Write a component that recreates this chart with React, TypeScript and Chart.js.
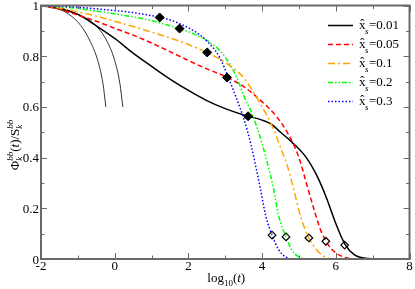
import { useEffect, useRef } from "react";
import { Chart, registerables } from "chart.js";

Chart.register(...registerables);

// ---- axis ticks ----
const xTicks = [-2, 0, 2, 4, 6, 8];
const xTickLabels = ["-2", "0", "2", "4", "6", "8"];
const xMinor = [-1, 1, 3, 5, 7];
const yTicks = [0, 0.2, 0.4, 0.6, 0.8, 1];
const yTickLabels = ["0", "0.2", "0.4", "0.6", "0.8", "1"];
const yMinor = [0.1, 0.3, 0.5, 0.7, 0.9];

// ---- series (x = log10 t, y = Phi/S) ----
const legendValues = ["0.01", "0.05", "0.1", "0.2", "0.3"];

const blackX = [-2, -1.5, -1, -0.5, 0, 0.5, 1, 1.5, 2, 2.5, 3, 3.5, 4, 4.25, 4.5, 4.8, 5.2, 5.5, 5.75, 6, 6.25, 6.5, 6.8, 7.2, 8];
const blackY = [1, 0.99, 0.965, 0.92, 0.87, 0.812, 0.76, 0.71, 0.665, 0.625, 0.593, 0.568, 0.548, 0.532, 0.5, 0.462, 0.4, 0.325, 0.24, 0.14, 0.058, 0.017, 0.003, 0, 0];

const redX = [-2, -1.5, -1, -0.5, 0, 0.5, 1, 1.5, 2, 2.5, 3, 3.5, 4, 4.4, 4.7, 5, 5.2, 5.4, 5.6, 5.8, 6, 6.3, 6.6, 8];
const redY = [1, 0.985, 0.962, 0.938, 0.91, 0.883, 0.852, 0.818, 0.783, 0.75, 0.72, 0.68, 0.62, 0.56, 0.495, 0.4, 0.3, 0.2, 0.11, 0.055, 0.024, 0.004, 0, 0];

const orangeX = [-2, -1.5, -1, -0.5, 0, 0.5, 1, 1.5, 2, 2.5, 3, 3.5, 4, 4.3, 4.5, 4.7, 4.85, 5.05, 5.27, 5.5, 5.75, 6, 8];
const orangeY = [1, 0.99, 0.975, 0.958, 0.938, 0.917, 0.895, 0.872, 0.846, 0.815, 0.775, 0.715, 0.6, 0.515, 0.44, 0.36, 0.28, 0.165, 0.083, 0.033, 0.005, 0, 0];

const greenX = [-2, -1.5, -1, -0.5, 0, 0.5, 1, 1.5, 1.76, 2, 2.5, 2.8, 3.05, 3.3, 3.5, 3.75, 4, 4.15, 4.3, 4.45, 4.65, 4.8, 5, 5.2, 8];
const greenY = [1, 0.995, 0.988, 0.978, 0.967, 0.955, 0.94, 0.92, 0.909, 0.897, 0.862, 0.83, 0.785, 0.72, 0.645, 0.565, 0.455, 0.375, 0.285, 0.17, 0.087, 0.037, 0.008, 0, 0];

const blueX = [-2, -1, 0, 0.5, 1, 1.5, 2, 2.3, 2.6, 2.85, 3.1, 3.3, 3.5, 3.7, 3.85, 3.95, 4.1, 4.27, 4.45, 4.65, 4.9, 8];
const blueY = [1, 0.993, 0.98, 0.972, 0.96, 0.943, 0.912, 0.885, 0.845, 0.795, 0.71, 0.635, 0.555, 0.45, 0.35, 0.28, 0.17, 0.094, 0.037, 0.007, 0, 0];

const thin1X = [-2, -1.6, -1.27, -0.92, -0.65, -0.46, -0.32, -0.24];
const thin1Y = [1, 0.99, 0.968, 0.921, 0.854, 0.783, 0.693, 0.6];
const thin2X = [-2, -1.35, -0.81, -0.46, -0.19, 0, 0.14, 0.22];
const thin2Y = [1, 0.98, 0.953, 0.913, 0.854, 0.783, 0.693, 0.6];

const filledX = [3.62, 3.05, 2.51, 1.76, 1.22];
const filledY = [0.563, 0.716, 0.815, 0.909, 0.953];
const openX = [6.24, 5.73, 5.27, 4.65, 4.27];
const openY = [0.055, 0.07, 0.083, 0.087, 0.094];

const seriesColors = ["#000000", "#ff0000", "#ffa500", "#00ff00", "#0000ff"];
const seriesDashes = [[], [5, 3], [7, 3, 2, 3], [5, 2, 1.5, 2, 1.5, 2], [1.5, 2]];

const SERIF = "'Liberation Serif', 'Times New Roman', serif";

type Seg = { t: string; size: number; dy: number; italic?: boolean; stackNext?: boolean };

function segWidth(ctx: CanvasRenderingContext2D, segs: Seg[]) {
  let w = 0;
  let pend = 0;
  for (const s of segs) {
    ctx.font = `${s.italic ? "italic " : ""}${s.size}px ${SERIF}`;
    const m = ctx.measureText(s.t).width;
    if (s.stackNext) {
      pend = m;
    } else {
      w += Math.max(m, pend);
      pend = 0;
    }
  }
  return w;
}

function drawSegs(ctx: CanvasRenderingContext2D, segs: Seg[], x0: number, y0: number) {
  let x = x0;
  let pend = 0;
  for (const s of segs) {
    ctx.font = `${s.italic ? "italic " : ""}${s.size}px ${SERIF}`;
    ctx.fillText(s.t, x, y0 + s.dy);
    const m = ctx.measureText(s.t).width;
    if (s.stackNext) {
      pend = m;
    } else {
      x += Math.max(m, pend);
      pend = 0;
    }
  }
}

const decor = {
  id: "decor",
  afterDraw(chart: any) {
    const ctx: CanvasRenderingContext2D = chart.ctx;
    const { left, right, top, bottom } = chart.chartArea;
    const xs = chart.scales.x;
    const ys = chart.scales.y;
    ctx.save();
    ctx.setLineDash([]);
    ctx.strokeStyle = "#6a6a6a";
    ctx.lineWidth = 1;
    const tick = (x1: number, y1: number, x2: number, y2: number) => {
      ctx.beginPath();
      ctx.moveTo(x1, y1);
      ctx.lineTo(x2, y2);
      ctx.stroke();
    };
    for (const v of xTicks) {
      const p = Math.round(xs.getPixelForValue(v)) + 0.5;
      tick(p, bottom, p, bottom - 6);
      tick(p, top, p, top + 6);
    }
    for (const v of xMinor) {
      const p = Math.round(xs.getPixelForValue(v)) + 0.5;
      tick(p, bottom, p, bottom - 3.5);
      tick(p, top, p, top + 3.5);
    }
    for (const v of yTicks) {
      const p = Math.round(ys.getPixelForValue(v)) + 0.5;
      tick(left, p, left + 6, p);
      tick(right, p, right - 6, p);
    }
    for (const v of yMinor) {
      const p = Math.round(ys.getPixelForValue(v)) + 0.5;
      tick(left, p, left + 3.5, p);
      tick(right, p, right - 3.5, p);
    }
    ctx.lineWidth = 2;
    ctx.strokeRect(left, top, right - left, bottom - top);

    // tick labels
    ctx.fillStyle = "#000";
    ctx.font = `13px ${SERIF}`;
    ctx.textBaseline = "alphabetic";
    ctx.textAlign = "center";
    xTicks.forEach((v, i) => {
      ctx.fillText(xTickLabels[i], xs.getPixelForValue(v), 270);
    });
    ctx.textAlign = "right";
    yTicks.forEach((v, i) => {
      ctx.fillText(yTickLabels[i], left - 2, ys.getPixelForValue(v) + 4.5);
    });

    // x title
    ctx.textAlign = "left";
    const xt: Seg[] = [
      { t: "log", size: 13, dy: 0 },
      { t: "10", size: 9, dy: 4 },
      { t: "(", size: 13, dy: 0 },
      { t: "t", size: 13, dy: 0, italic: true },
      { t: ")", size: 13, dy: 0 },
    ];
    const xw = segWidth(ctx, xt);
    drawSegs(ctx, xt, (left + right) / 2 - xw / 2 + 1, 282);

    // y title
    const yt: Seg[] = [
      { t: "Φ", size: 13, dy: 0 },
      { t: "k", size: 9, dy: 3, italic: true, stackNext: true },
      { t: "bb", size: 9, dy: -6, italic: true },
      { t: "(", size: 13, dy: 0 },
      { t: "t", size: 13, dy: 0, italic: true },
      { t: ")/S", size: 13, dy: 0 },
      { t: "k", size: 9, dy: 3, italic: true, stackNext: true },
      { t: "bb", size: 9, dy: -6, italic: true },
    ];
    const yw = segWidth(ctx, yt);
    ctx.save();
    ctx.translate(19, 145);
    ctx.rotate(-Math.PI / 2);
    drawSegs(ctx, yt, -yw / 2, 0);
    ctx.restore();

    // legend
    legendValues.forEach((val, i) => {
      const y = 25 + 19 * i;
      ctx.save();
      ctx.strokeStyle = seriesColors[i];
      ctx.lineWidth = 1.5;
      ctx.setLineDash(seriesDashes[i]);
      ctx.beginPath();
      ctx.moveTo(328, y + 0.5);
      ctx.lineTo(353, y + 0.5);
      ctx.stroke();
      ctx.restore();
      ctx.fillStyle = "#000";
      ctx.textAlign = "left";
      ctx.font = `13px ${SERIF}`;
      ctx.fillText("x\u0302", 359, y + 3.5);
      ctx.font = `italic 9px ${SERIF}`;
      ctx.fillText("s", 365, y + 9);
      ctx.font = `13px ${SERIF}`;
      ctx.fillText("=" + val, 369, y + 3.5);
    });
    ctx.restore();
  },
};

export default function App() {
  const ref = useRef<HTMLCanvasElement>(null);
  useEffect(() => {
    const canvas = ref.current;
    if (!canvas) return;
    const mk = (xs: number[], ys: number[]) => xs.map((x, i) => ({ x, y: ys[i] }));
    const line = (label: string, xs: number[], ys: number[], color: string, dash: number[], width: number) => ({
      type: "line" as const,
      label,
      data: mk(xs, ys),
      borderColor: color,
      borderDash: dash,
      borderWidth: width,
      pointRadius: 0,
      fill: false,
      showLine: true,
      cubicInterpolationMode: "monotone" as const,
    });
    const chart = new Chart(canvas, {
      type: "scatter",
      data: {
        datasets: [
          {
            label: "filled",
            data: mk(filledX, filledY),
            pointStyle: "rectRot",
            pointRadius: 4.5,
            backgroundColor: "#000",
            borderColor: "#000",
            borderWidth: 1,
            showLine: false,
          } as any,
          {
            label: "open",
            data: mk(openX, openY),
            pointStyle: "rectRot",
            pointRadius: 3.8,
            backgroundColor: "rgba(0,0,0,0)",
            borderColor: "#000",
            borderWidth: 1.2,
            showLine: false,
          } as any,
          line("x̂s=0.3", blueX, blueY, seriesColors[4], seriesDashes[4], 1.5),
          line("x̂s=0.2", greenX, greenY, seriesColors[3], seriesDashes[3], 1.5),
          line("x̂s=0.1", orangeX, orangeY, seriesColors[2], seriesDashes[2], 1.5),
          line("x̂s=0.05", redX, redY, seriesColors[1], seriesDashes[1], 1.5),
          line("x̂s=0.01", blackX, blackY, seriesColors[0], seriesDashes[0], 1.5),
          line("thin1", thin1X, thin1Y, "#333", [], 1),
          line("thin2", thin2X, thin2Y, "#333", [], 1),
        ] as any,
      },
      options: {
        animation: false,
        responsive: false,
        devicePixelRatio: 1,
        events: [],
        layout: { padding: { left: 41, top: 5, right: 4, bottom: 30 } },
        scales: {
          x: { type: "linear", min: -2, max: 8, display: false },
          y: { type: "linear", min: 0, max: 1, display: false },
        },
        plugins: { legend: { display: false }, tooltip: { enabled: false } },
      },
      plugins: [decor],
    });
    return () => chart.destroy();
  }, []);
  return (
    <div style={{ position: "absolute", left: 0, top: 0, width: 415, height: 289, background: "#fff" }}>
      <canvas ref={ref} width={415} height={289} />
    </div>
  );
}
